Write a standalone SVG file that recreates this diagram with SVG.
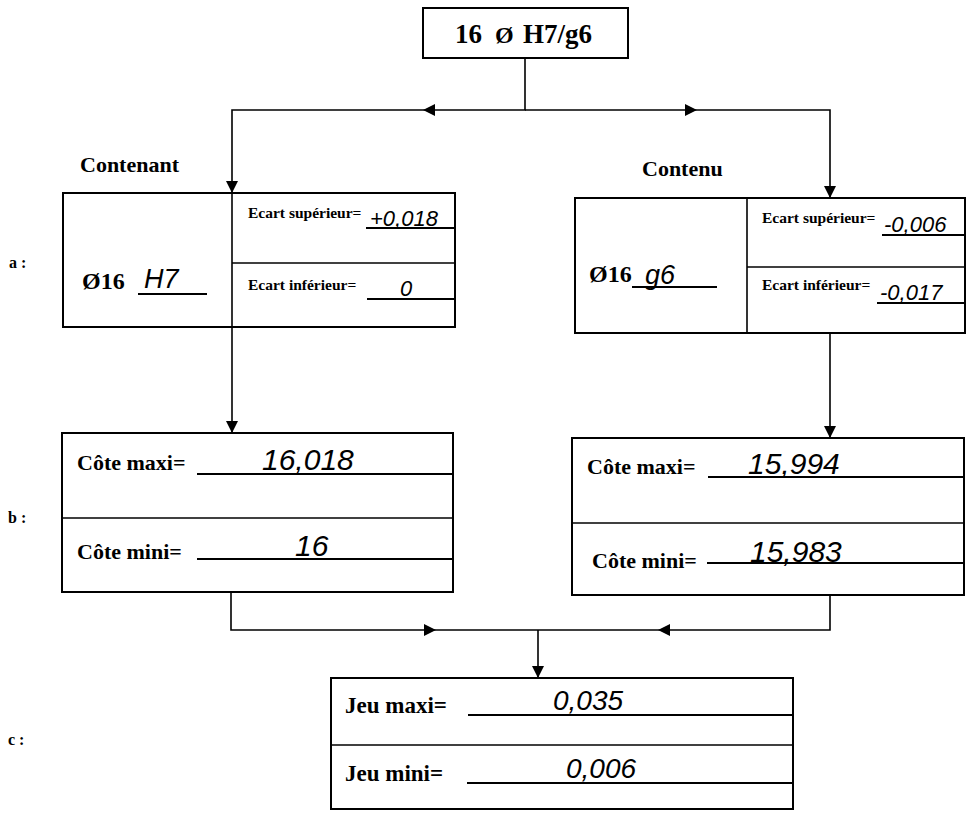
<svg xmlns="http://www.w3.org/2000/svg" width="969" height="815" viewBox="0 0 969 815">
<defs>
<marker id="ah" viewBox="0 0 10 10" refX="10" refY="5" markerWidth="14" markerHeight="12" markerUnits="userSpaceOnUse" orient="auto">
<path d="M0,0 L10,5 L0,10 z" fill="#000"/>
</marker>
<style>
.box{fill:#fff;stroke:#000;stroke-width:2}
.ln{fill:none;stroke:#000;stroke-width:1.6}
.ul{stroke:#000;stroke-width:1.8}
.b{font-family:"Liberation Serif","Times New Roman",serif;font-weight:bold;fill:#000}
.h{font-family:"Liberation Sans",Arial,sans-serif;font-style:italic;font-weight:normal;fill:#000}
.con{fill:none;stroke:#000;stroke-width:1.6}
</style>
</defs>
<rect width="969" height="815" fill="#fff"/>

<g id="top">
<rect class="box" x="423" y="8" width="205" height="50"/>
<text class="b" x="455" y="43" font-size="27">16</text>
<text class="b" x="495" y="43" font-size="24">Ø</text>
<text class="b" x="523" y="43" font-size="27">H7/g6</text>
</g>

<g id="labels">
<text class="b" x="80" y="172" font-size="22">Contenant</text>
<text class="b" x="642" y="176" font-size="22">Contenu</text>
<text class="b" x="9" y="268" font-size="16">a :</text>
<text class="b" x="8" y="523" font-size="16">b :</text>
<text class="b" x="8" y="745" font-size="16">c :</text>
</g>

<g id="contenant-a">
<rect class="box" x="63" y="193" width="392" height="134"/>
<line class="ln" x1="232" y1="193" x2="232" y2="327"/>
<line class="ln" x1="232" y1="263" x2="455" y2="263"/>
<text class="b" x="82" y="289" font-size="24">Ø16</text>
<line class="ul" x1="138" y1="294" x2="207" y2="294"/>
<text class="h" x="144" y="288" font-size="27">H7</text>
<text class="b" x="248" y="218" font-size="15.5">Ecart supérieur=</text>
<line class="ul" x1="366" y1="228" x2="455" y2="228"/>
<text class="h" x="370" y="226" font-size="22">+0,018</text>
<text class="b" x="248" y="290" font-size="15.5">Ecart inférieur=</text>
<line class="ul" x1="367" y1="299" x2="455" y2="299"/>
<text class="h" x="400" y="296" font-size="22">0</text>
</g>

<g id="contenu-a">
<rect class="box" x="575" y="198" width="390" height="135"/>
<line class="ln" x1="747" y1="198" x2="747" y2="333"/>
<line class="ln" x1="747" y1="267" x2="965" y2="267"/>
<text class="b" x="589" y="282" font-size="24">Ø16</text>
<line class="ul" x1="632" y1="287" x2="717" y2="287"/>
<text class="h" x="645" y="284" font-size="27">g6</text>
<text class="b" x="762" y="223" font-size="15.5">Ecart supérieur=</text>
<line class="ul" x1="882" y1="235" x2="965" y2="235"/>
<text class="h" x="884" y="232" font-size="22">-0,006</text>
<text class="b" x="762" y="290" font-size="15.5">Ecart inférieur=</text>
<line class="ul" x1="877" y1="303" x2="965" y2="303"/>
<text class="h" x="880" y="300" font-size="22">-0,017</text>
</g>

<g id="contenant-b">
<rect class="box" x="62" y="433" width="391" height="159"/>
<line class="ln" x1="62" y1="518" x2="453" y2="518"/>
<text class="b" x="77" y="470" font-size="22">Côte maxi=</text>
<line class="ul" x1="197" y1="474" x2="453" y2="474"/>
<text class="h" x="262" y="470" font-size="30">16,018</text>
<text class="b" x="77" y="559" font-size="22">Côte mini=</text>
<line class="ul" x1="197" y1="559" x2="453" y2="559"/>
<text class="h" x="295" y="556" font-size="30">16</text>
</g>

<g id="contenu-b">
<rect class="box" x="572" y="438" width="392" height="157"/>
<line class="ln" x1="572" y1="523" x2="964" y2="523"/>
<text class="b" x="587" y="474" font-size="22">Côte maxi=</text>
<line class="ul" x1="708" y1="477" x2="964" y2="477"/>
<text class="h" x="748" y="474" font-size="30">15,994</text>
<text class="b" x="592" y="568" font-size="22">Côte mini=</text>
<line class="ul" x1="707" y1="563" x2="964" y2="563"/>
<text class="h" x="750" y="562" font-size="30">15,983</text>
</g>

<g id="jeu">
<rect class="box" x="331" y="678" width="462" height="131"/>
<line class="ln" x1="331" y1="745" x2="793" y2="745"/>
<text class="b" x="345" y="713" font-size="23">Jeu maxi=</text>
<line class="ul" x1="468" y1="715" x2="793" y2="715"/>
<text class="h" x="553" y="710" font-size="28">0,035</text>
<text class="b" x="345" y="781" font-size="23">Jeu mini=</text>
<line class="ul" x1="467" y1="783" x2="793" y2="783"/>
<text class="h" x="566" y="778" font-size="28">0,006</text>
</g>

<g id="connectors">
<path class="con" d="M525,58 V110 H423" marker-end="url(#ah)"/>
<path class="con" d="M423,110 H232 V193" marker-end="url(#ah)"/>
<path class="con" d="M525,110 H697" marker-end="url(#ah)"/>
<path class="con" d="M697,110 H830 V198" marker-end="url(#ah)"/>
<path class="con" d="M232,327 V433" marker-end="url(#ah)"/>
<path class="con" d="M830,333 V438" marker-end="url(#ah)"/>
<path class="con" d="M231,592 V630 H436" marker-end="url(#ah)"/>
<path class="con" d="M436,630 H538"/>
<path class="con" d="M830,595 V630 H658" marker-end="url(#ah)"/>
<path class="con" d="M658,630 H538"/>
<path class="con" d="M538,630 V678" marker-end="url(#ah)"/>
</g>
</svg>
